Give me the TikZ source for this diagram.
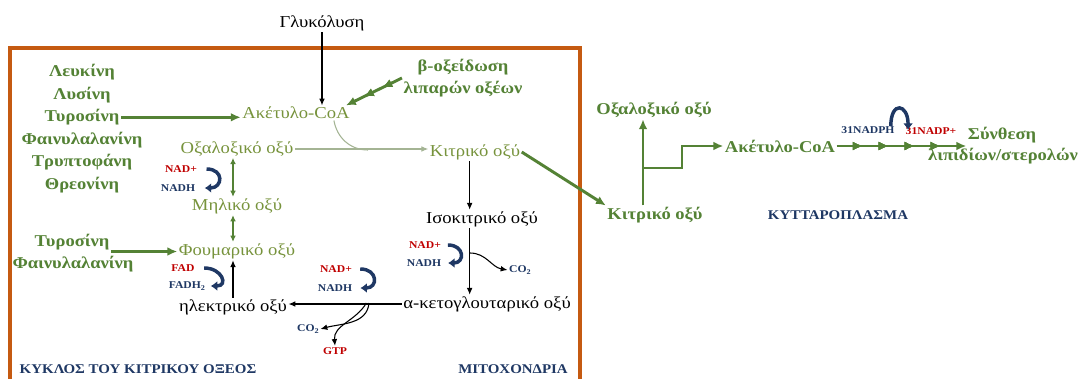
\documentclass[tikz,border=0pt]{standalone}
\usepackage{fontspec}
\setmainfont{Liberation Serif}[FakeStretch=1.12]
\usetikzlibrary{arrows.meta,decorations.markings}

\definecolor{dgreen}{HTML}{548235}
\definecolor{lgreen}{HTML}{77933C}
\definecolor{pgreen}{HTML}{A4B494}
\definecolor{navy}{HTML}{1F3864}
\definecolor{nred}{HTML}{C00000}
\definecolor{frameor}{HTML}{C55A11}

\begin{document}
\begin{tikzpicture}[
      x=0.75pt, y=-0.75pt,
      plain/.style={font=\fontsize{12.5}{15}\selectfont, inner sep=1pt},
      cyc/.style={plain, text=lgreen},
      bgrn/.style={font=\bfseries\fontsize{12.4}{16}\selectfont, text=dgreen, inner sep=1pt, align=center},
      cofr/.style={font=\bfseries\fontsize{7.8}{9}\selectfont, text=nred, inner sep=1pt},
      cofn/.style={font=\bfseries\fontsize{7.8}{9}\selectfont, text=navy, inner sep=1pt},
      place/.style={font=\bfseries\fontsize{10}{12}\selectfont, text=navy, inner sep=1pt},
      garr/.style={-{Latex[length=2.6mm, width=2.3mm]}, line width=2.2pt, draw=dgreen},
      karr/.style={-{Latex[length=1.8mm, width=1.5mm]}, line width=0.8pt},
      larr/.style={-{Latex[length=1.8mm, width=1.5mm]}, line width=0.8pt, draw=pgreen},
      darr/.style={{Latex[length=1.6mm, width=1.5mm]}-{Latex[length=1.6mm, width=1.5mm]}, line width=0.8pt, draw=dgreen},
      coil/.style={-{Latex[length=1.7mm, width=2.6mm]}, line width=2.6pt, draw=navy},
      tip/.style={decoration={markings, mark=at position #1 with {\arrow{Latex[length=2.6mm, width=2.3mm]}}}, postaction={decorate}}
    ]
      \useasboundingbox (0,0) rectangle (1080,378);
      \clip (0,0) rectangle (1080,378);
      \fill[white] (0,0) rectangle (1080,378);
      \draw[frameor, line width=2.3pt] (10,48) rectangle (580,420);

      % mitochondria
      \node[plain] (glyc) at (322,23) {Γλυκόλυση};
      \node[cyc] (acoa) at (296,113) {Ακέτυλο-CoA};
      \node[bgrn] (boxid) at (463,78) {β-οξείδωση\\λιπαρών οξέων};
      \foreach \t [count=\i] in {Λευκίνη,Λυσίνη,Τυροσίνη,Φαινυλαλανίνη,Τρυπτοφάνη,Θρεονίνη}
        \node[bgrn] (aa\i) at (82,{49.5+22.6*\i}) {\t};
      \node[cyc] (oxa) at (237,149) {Οξαλοξικό οξύ};
      \node[cyc] (mal) at (237,206) {Μηλικό οξύ};
      \node[cyc] (fum) at (237,251) {Φουμαρικό οξύ};
      \node[plain] (succ) at (233,307) {ηλεκτρικό οξύ};
      \node[cyc] (cit) at (475,152) {Κιτρικό οξύ};
      \node[plain] (iso) at (482,219) {Ισοκιτρικό οξύ};
      \node[plain] (akg) at (487,304) {α-κετογλουταρικό οξύ};
      \node[bgrn] (ty2) at (72,242) {Τυροσίνη};
      \node[bgrn] (ph2) at (73,264) {Φαινυλαλανίνη};

      \node[cofr] (nad1) at (181,169) {NAD+};
      \node[cofn] (nadh1) at (178,188) {NADH};
      \node[cofr] (fad) at (183,268) {FAD};
      \node[cofn] (fadh) at (187,286) {FADH$_\mathbf{2}$};
      \node[cofr] (nad2) at (425,245) {NAD+};
      \node[cofn] (nadh2) at (424,263) {NADH};
      \node[cofn] (co2b) at (520,270) {CO$_\mathbf{2}$};
      \node[cofr] (nad3) at (336,269) {NAD+};
      \node[cofn] (nadh3) at (335,288) {NADH};
      \node[cofn] (co2a) at (308,329) {CO$_\mathbf{2}$};
      \node[cofr] (gtp) at (335,351) {GTP};

      \node[place] (lcyc) at (138,369) {ΚΥΚΛΟΣ ΤΟΥ ΚΙΤΡΙΚΟΥ ΟΞΕΟΣ};
      \node[place] (lmito) at (513,369) {ΜΙΤΟΧΟΝΔΡΙΑ};

      % cytoplasm
      \node[bgrn] (rcit) at (655,215) {Κιτρικό οξύ};
      \node[bgrn] (roxa) at (654,110) {Οξαλοξικό οξύ};
      \node[bgrn] (racoa) at (780,146) {Ακέτυλο-CoA};
      \node[cofn] (nadph) at (868,130) {31NADPH};
      \node[cofr] (nadpp) at (931,131) {31NADP+};
      \node[bgrn] (syn1) at (1002,135) {Σύνθεση};
      \node[bgrn] (syn2) at (1003,156) {λιπιδίων/στερολών};
      \node[place] (lcyto) at (838,215) {ΚΥΤΤΑΡΟΠΛΑΣΜΑ};

      \coordinate (mrg) at (368,150);
      \coordinate (br1) at (470,253);
      \coordinate (br2) at (369,303);
      \coordinate (fork) at (643,168);

      \draw[karr] (glyc.south) -- (glyc.south |- acoa.north);
      \draw[garr, tip=0.35, tip=0.68] (boxid.west) -- ([xshift=-4pt]acoa.north east);
      \draw[garr] (aa3.east) -- (aa3.east -| acoa.west);
      \draw[larr] (oxa.east) -- (oxa.east -| cit.west);
      \draw[pgreen, line width=0.8pt] ([xshift=-13pt]acoa.south east) to[out=-80,in=180] (mrg);
      \draw[darr] ([xshift=-3pt]oxa.south) -- ([xshift=-3pt]mal.north);
      \draw[darr] ([xshift=-3pt]mal.south) -- ([xshift=-3pt]fum.north);
      \draw[garr] (ty2.south east) -- (ty2.south east -| fum.west);
      \draw[karr] (succ.north) -- (succ.north |- fum.south);
      \draw[karr] ([xshift=-4pt]cit.south) -- ([xshift=-4pt]cit.south |- iso.north);
      \draw[karr] ([xshift=-4pt]cit.south |- iso.south) -- ([xshift=-4pt]cit.south |- akg.north);
      \draw[karr] (br1) to[out=0,in=170] (co2b.west);
      \draw[karr] (akg.west) -- (akg.west -| succ.east);
      \draw[karr] (br2) to[out=-95,in=15] (co2a.east);
      \draw[karr] ([xshift=-2pt]br2) to[out=-120,in=95] (gtp.north);

      \draw[coil] ([xshift=6pt]nad1.east) to[out=0,in=0,looseness=2.4] ([xshift=6pt]nadh1.east);
      \draw[coil] ([xshift=6pt]fad.east) to[out=0,in=0,looseness=2.4] ([xshift=3pt]fadh.east);
      \draw[coil] ([xshift=4pt]nad2.east) to[out=0,in=0,looseness=2.4] ([xshift=4pt]nadh2.east);
      \draw[coil] ([xshift=5pt]nad3.east) to[out=0,in=0,looseness=2.4] ([xshift=5pt]nadh3.east);

      \draw[garr] (cit.east) -- (rcit.north west);
      \draw[garr] (rcit.north -| fork) -- (fork |- roxa.south);
      \draw[garr] (fork) -- ++(39,0) |- (racoa.west);
      \draw[garr, tip=0.2, tip=0.4, tip=0.6, tip=0.8] (racoa.east) -- (racoa.east -| syn1.west);
      \draw[coil] ([xshift=-4pt,yshift=-1pt]nadph.north east) .. controls +(0,-26) and +(0,-26) .. ([xshift=3pt,yshift=-3pt]nadpp.north west);
    \end{tikzpicture}
\end{document}
